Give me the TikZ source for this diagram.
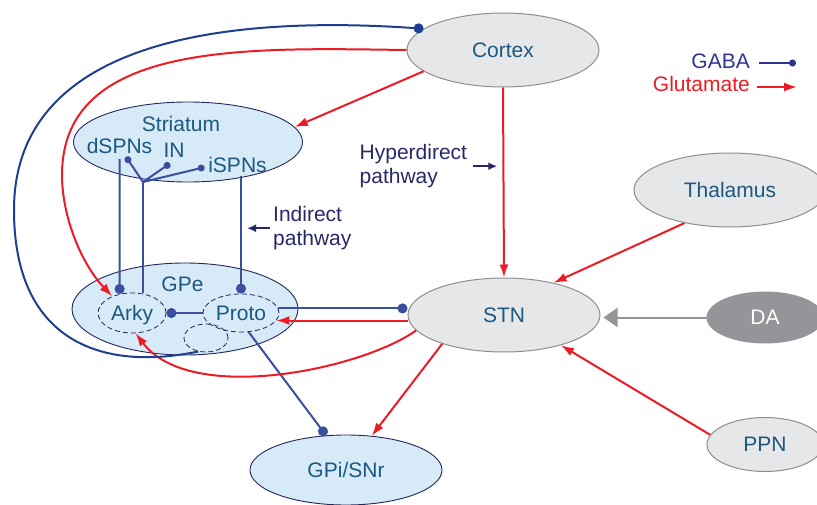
\documentclass[tikz,border=0pt]{standalone}
\usepackage{fontspec}
\setmainfont{Liberation Sans}
\usetikzlibrary{shapes.geometric,arrows.meta}
\tikzset{>={Latex[width=9pt,length=13pt]}}
\definecolor{gabablue}{RGB}{60,78,160}
\definecolor{cortexblue}{RGB}{30,62,145}
\definecolor{glured}{RGB}{237,28,36}
\definecolor{labelblue}{RGB}{28,88,128}
\definecolor{pathnavy}{RGB}{40,40,105}
\definecolor{legendblue}{RGB}{46,52,146}
\definecolor{bgblue}{RGB}{214,234,247}
\definecolor{bggray}{RGB}{230,231,232}
\definecolor{edgegray}{RGB}{140,142,145}
\definecolor{dagray}{RGB}{147,149,152}
\definecolor{edgenavy}{RGB}{38,38,92}

\begin{document}
\begin{tikzpicture}[x=1pt,y=-1pt,font=\fontsize{21}{23.5}\selectfont]
    \tikzset{nucleus/.style={ellipse,inner sep=0pt,text depth=0pt,text=labelblue,draw=edgenavy,line width=0.9pt,fill=bgblue}}
    \tikzset{outside/.style={ellipse,inner sep=0pt,text depth=0pt,text=labelblue,draw=edgegray,line width=1pt,fill=bggray}}
    \tikzset{subpop/.style={ellipse,inner sep=0pt,text depth=0pt,text=labelblue,draw=edgenavy,line width=0.8pt,dash pattern=on 5pt off 3pt}}
    \tikzset{cell/.style={inner sep=0pt,text depth=0pt,text=labelblue}}
    \tikzset{gaba/.style={draw=gabablue,line width=2pt,-{Circle[length=10pt]}}}
    \tikzset{gabasmall/.style={draw=gabablue,line width=2pt,-{Circle[length=7pt]}}}
    \tikzset{glu/.style={draw=glured,line width=2pt,->}}
    \tikzset{pathlabel/.style={inner sep=0pt,align=left,anchor=north west,text=pathnavy}}
    \tikzset{pathway/.style={draw=pathnavy,line width=2pt,-{Latex[width=8pt,length=9pt]}}}
    \useasboundingbox (0,0) rectangle (817,505);
    \draw (503,50) node[outside,minimum width=192pt,minimum height=74pt](cortex){Cortex};
    \draw (188,142) node[nucleus,minimum width=229pt,minimum height=80pt](striatum){};
    \draw (185,309) node[nucleus,minimum width=226pt,minimum height=92pt](gpe){};
    \draw (132,313) node[subpop,minimum width=68pt,minimum height=40pt](arky){Arky};
    \draw (241,313) node[subpop,minimum width=76pt,minimum height=38pt](proto){Proto};
    \draw (206,338) node[subpop,minimum width=44pt,minimum height=28pt](small){};
    \draw (504,315) node[outside,minimum width=192pt,minimum height=74pt](stn){STN};
    \draw (730,190) node[outside,minimum width=192pt,minimum height=74pt](thalamus){Thalamus};
    \draw (765,317.5) node[outside,fill=dagray,draw=dagray,text=white,minimum width=116pt,minimum height=51pt](da){DA};
    \draw (765,444.5) node[outside,minimum width=116pt,minimum height=54pt](ppn){PPN};
    \draw (346,470) node[nucleus,minimum width=192pt,minimum height=70pt](gpi){GPi/SNr};
    \draw (181,123.5) node[cell](striatumlabel){Striatum};
    \draw (182.5,284.5) node[cell](gpelabel){GPe};
    \draw (119.5,146) node[cell](dspns){dSPNs};
    \draw (174,150.5) node[cell](in){IN};
    \draw (237.5,164.5) node[cell](ispns){iSPNs};
    \draw (359.5,144.5) node[pathlabel](hyper){Hyperdirect\\pathway};
    \draw (273,206.5) node[pathlabel](indirect){Indirect\\pathway};
    \draw (750,61) node[cell,anchor=east,text=legendblue](gabakey){GABA};
    \draw (750,83.5) node[cell,anchor=east,text=glured](glukey){Glutamate};
    \coordinate (hub) at (143,182);
    \coordinate (gabaend) at (796,63);
    \coordinate (gluend) at (797,87);
    % striatum and GPe
    \draw[gabasmall](hub) -- ([xshift=6.5pt,yshift=-3pt]dspns.south);
    \draw[gabasmall](hub) -- ([xshift=-4pt,yshift=-5.5pt]in.south);
    \draw[gabasmall](hub) -- ([xshift=-3.5pt,yshift=-2.7pt]ispns.west);
    \draw[gabablue,line width=2pt](hub) -- (hub |- arky.north);
    \draw[gaba,shorten <=5pt](dspns.south) -- (arky.123);
    \draw[gaba,shorten <=4pt](proto.north |- ispns.south) -- (proto.north);
    \draw[gaba](proto.west) -- (arky.east);
    \draw[gaba](proto.7) -- (proto.7 -| stn.west);
    \draw[gaba](proto.-68) -- (gpi.120);
    % glutamate
    \draw[glu](proto.-12 -| stn.west) -- (proto.-12);
    \draw[glu](stn.205) -- (gpi.53);
    \draw[glu](cortex.south) -- (stn.north);
    \draw[glu](cortex.195) -- (striatum.8);
    \draw[glu](thalamus.216) -- (stn.33);
    \draw[glu](ppn.170) -- (stn.-28);
    \draw[glu](cortex.west) .. controls (250,48) and (62,40) .. (62,175) .. controls (62,215) and (80,262) .. (arky.140);
    \draw[glu](stn.190) .. controls (360,370) and (190,405) .. (arky.-80);
    \draw[gaba,draw=cortexblue](small.-120) .. controls (100,372) and (14,340) .. (14,210) .. controls (14,60) and (180,12) .. (cortex.165);
    \draw[dagray,line width=2pt,-{Triangle[length=14pt,width=19pt]},shorten >=3pt](da.west) -- (da.west -| stn.east);
    % pathway marks and key
    \draw[pathway]([xshift=6pt]hyper.east) -- ([xshift=30pt]hyper.east);
    \draw[pathway]([xshift=-3pt]indirect.west) -- ([xshift=-26pt]indirect.west);
    \draw[gabasmall,draw=legendblue]([xshift=9pt,yshift=-2pt]gabakey.east) -- (gabaend);
    \draw[glu]([xshift=7pt,yshift=-3.5pt]glukey.east) -- (gluend);
  \end{tikzpicture}
\end{document}
